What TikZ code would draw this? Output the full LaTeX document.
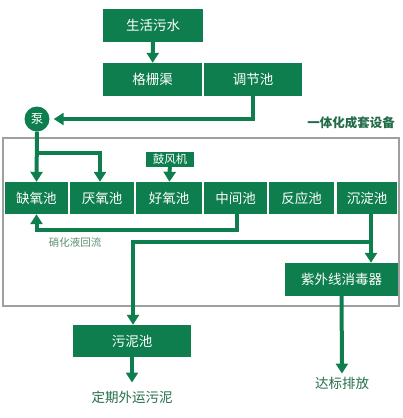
\documentclass[tikz,border=0pt]{standalone}
\usepackage{fontspec}
\setmainfont{Noto Sans CJK SC}
\usepackage{xcolor}
\usepackage{tikz}
\usetikzlibrary{
  positioning,
  arrows.meta,
  calc
}
\definecolor{boxgreen}{RGB}{14,126,78}
\definecolor{labgreen}{RGB}{35,108,74}
\definecolor{softgreen}{RGB}{88,142,112}

\begin{document}
\begin{tikzpicture}[
  x=1pt, y=-1pt,
  unit/.style={fill=boxgreen, text=white, inner sep=0pt, minimum height=33pt, font=\fontsize{13.5}{14}\selectfont},
  smallunit/.style={fill=boxgreen, text=white, inner sep=0pt, minimum width=48pt, minimum height=15pt, font=\fontsize{11.5}{12}\selectfont},
  pumpnode/.style={circle, fill=boxgreen, text=white, inner sep=0pt, minimum size=25pt, font=\fontsize{12.5}{13}\selectfont},
  note/.style={text=labgreen, inner sep=0pt, font=\fontsize{13.5}{14}\selectfont},
  flow/.style={boxgreen, line width=4pt, -{Triangle[width=12pt,length=10pt]}},
  pipe/.style={boxgreen, line width=4pt},
]
\useasboundingbox (0,0) rectangle (402,418);

% Bereich der Anlage
\draw[gray!75, line width=1.2pt] (3,138) rectangle (399,306);
\node[note, anchor=east, font=\fontsize{12.5}{13}\selectfont\bfseries] (equip) at (395,123) {一体化成套设备};

% Vorbehandlung
\node[unit, minimum width=100pt] (sewage) at (153,25.5) {生活污水};
\node[unit, minimum width=99pt] (screen) at (152.5,79.5) {格栅渠};
\node[unit, minimum width=98pt] (regpool) at (253,79.5) {调节池};
\node[pumpnode] (pump) at (37,119) {泵};

% Reihe der Becken
\node[unit, minimum width=63pt, minimum height=32pt] (anoxic) at (36.5,198) {缺氧池};
\node[unit, minimum width=64pt, minimum height=32pt] (anaer) at (102,198) {厌氧池};
\node[unit, minimum width=66pt, minimum height=32pt] (aerob) at (169,198) {好氧池};
\node[unit, minimum width=63pt, minimum height=32pt] (mid) at (235.5,198) {中间池};
\node[unit, minimum width=65pt, minimum height=32pt] (react) at (301.5,198) {反应池};
\node[unit, minimum width=60pt, minimum height=32pt] (settle) at (367,198) {沉淀池};
\node[smallunit] (blower) at (170,159.5) {鼓风机};

% Nachbehandlung
\node[unit, minimum width=113pt] (uv) at (341.5,279.5) {紫外线消毒器};
\node[unit, minimum width=118pt, minimum height=32pt] (sludge) at (132,341) {污泥池};
\node[note] (haul) at (132,397) {定期外运污泥};
\node[note] (discharge) at (342,383) {达标排放};
\node[note, text=softgreen, font=\fontsize{10.5}{11}\selectfont] (recycle) at (75,242) {硝化液回流};

% Leitungen
\coordinate (split) at (37,153);
\coordinate (drain) at (371,242);
\draw[flow] (sewage) -- (screen);
\draw[flow, shorten >=4pt] (regpool.south) |- (pump.east);
\draw[flow] (pump.south) -- (anoxic.north);
\draw[flow] (split) -| ([xshift=-2pt]anaer.north);
\draw[flow] (blower) -- (aerob);
\draw[flow] ([xshift=1.5pt]mid.south) -- ++(0,16) -| (anoxic.south);
\draw[flow] ([xshift=4pt]settle.south) -- ([xshift=4pt]settle.south |- uv.north);
\draw[flow] (drain) -| ([xshift=1pt]sludge.north);
\draw[flow, shorten >=8pt] (sludge) -- (haul);
\draw[flow, shorten >=3pt] (uv) -- (discharge);

\end{tikzpicture}
\end{document}
